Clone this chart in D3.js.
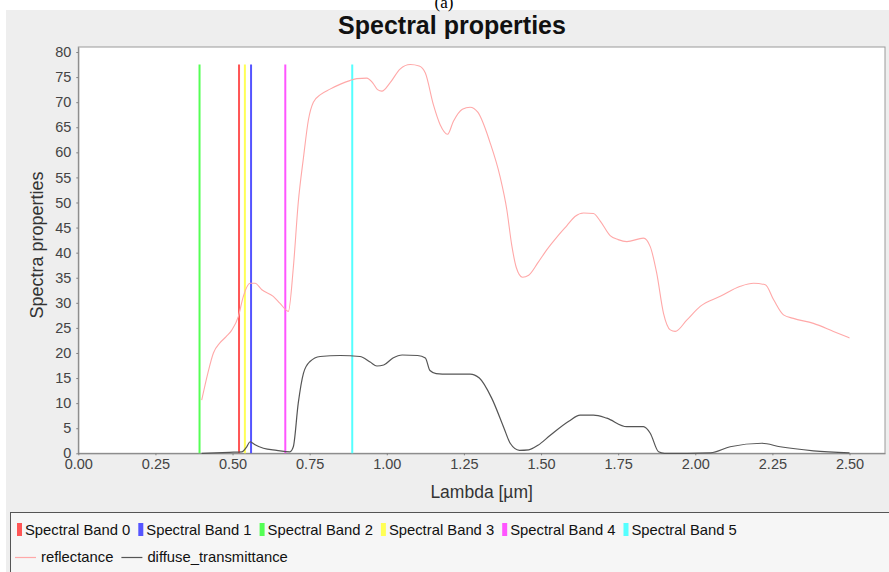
<!DOCTYPE html>
<html>
<head>
<meta charset="utf-8">
<script src="https://cdn.jsdelivr.net/npm/d3@7"></script>
<style>
  body { margin: 0; background: #fff; }
  svg { display: block; font-family: "Liberation Sans", Arial, sans-serif; }
</style>
</head>
<body>
<div id="chart"></div>
<script>
// band positions (lambda, µm)
var bandNames = ["Spectral Band 0", "Spectral Band 1", "Spectral Band 2",
  "Spectral Band 3", "Spectral Band 4", "Spectral Band 5"];
var bandLambda = [0.521, 0.560, 0.393, 0.540, 0.671, 0.888];
var bandTop = 77.5;

var xTicks = [0, 0.25, 0.5, 0.75, 1.0, 1.25, 1.5, 1.75, 2.0, 2.25, 2.5];
var yTicks = d3.range(0, 81, 5);

// [lambda, value]
var reflectance = [[0.40,10.6],[0.42,16],[0.438,20],[0.459,22],[0.48,23.3],[0.497,24.5],
  [0.519,27.3],[0.535,31.3],[0.557,33.9],[0.573,33.9],[0.595,32.6],[0.632,31.3],[0.654,29.9],
  [0.681,28.3],[0.697,37],[0.713,50],[0.730,59],[0.746,66.5],[0.762,70],[0.785,71.5],
  [0.816,72.6],[0.850,73.6],[0.880,74.3],[0.903,74.7],[0.935,74.8],[0.955,73.8],[0.970,72.5],
  [0.984,72.2],[1.011,73.9],[1.043,76.6],[1.076,77.5],[1.105,77.2],[1.125,75.8],[1.151,69.5],
  [1.173,65.5],[1.197,63.6],[1.216,66.2],[1.245,68.6],[1.27,69],[1.295,68],[1.335,61.9],
  [1.367,55.2],[1.389,48.6],[1.405,41.5],[1.42,37],[1.44,35.1],[1.46,35.5],[1.49,38],
  [1.519,40.6],[1.55,43],[1.584,45.4],[1.61,47.2],[1.638,47.9],[1.67,47.8],[1.692,46.3],
  [1.724,43.4],[1.75,42.6],[1.778,42.2],[1.832,42.9],[1.854,41.2],[1.875,35.9],[1.897,27.9],
  [1.919,24.6],[1.935,24.3],[1.973,26.6],[2.016,29.3],[2.081,31.3],[2.146,33.3],[2.189,33.9],
  [2.227,33.6],[2.254,30.6],[2.286,27.6],[2.318,26.9],[2.383,25.9],[2.448,24.3],[2.50,23.0]];

var transmittance = [[0.40,0],[0.49,0.2],[0.53,0.3],[0.546,1.3],[0.557,2.3],[0.573,1.7],
  [0.60,1.0],[0.643,0.6],[0.686,0.3],[0.697,1.3],[0.713,10],[0.73,16],[0.751,18.3],
  [0.784,19.3],[0.849,19.5],[0.913,19.3],[0.946,18.2],[0.968,17.4],[0.99,17.6],[1.02,19],
  [1.05,19.6],[1.1,19.5],[1.125,19],[1.14,16.5],[1.16,15.9],[1.2,15.8],[1.27,15.8],[1.30,15],
  [1.34,11],[1.38,5],[1.40,2],[1.43,0.6],[1.46,0.7],[1.49,1.6],[1.53,3.6],[1.59,6.4],
  [1.627,7.6],[1.67,7.6],[1.713,7.0],[1.778,5.3],[1.832,5.3],[1.854,4.0],[1.881,0.3],
  [1.9,0],[2.05,0.1],[2.113,1.3],[2.216,2.0],[2.275,1.3],[2.383,0.5],[2.5,0.1]];

var bandColors = ["#ff5555", "#5555ff", "#55ff55", "#ffff55", "#ff55ff", "#55ffff"];
var reflColor = "#ffa8a8", transColor = "#555555";

var W = 889, H = 572;
var svg = d3.select("#chart").append("svg").attr("width", W).attr("height", H);

// panel background
svg.append("rect").attr("x", 6).attr("y", 10).attr("width", W - 6).attr("height", H - 10)
  .attr("fill", "#eeeeee");
svg.append("text").attr("x", 444).attr("y", 8).attr("text-anchor", "middle")
  .style("font-family", "Liberation Serif, serif").style("font-size", "17px").text("(a)");

var x = d3.scaleLinear().domain([0, 2.615]).range([78.3, 885]);
var y = d3.scaleLinear().domain([0, 81]).range([453.3, 47]);

// plot area
svg.append("rect").attr("x", x(0)).attr("y", y(81))
  .attr("width", x(2.615) - x(0)).attr("height", y(0) - y(81))
  .attr("fill", "#fff").attr("stroke", "#9a9a9a");

// title
svg.append("text").attr("x", 452).attr("y", 34).attr("text-anchor", "middle")
  .style("font-size", "25px").style("font-weight", "bold").attr("fill", "#111")
  .text("Spectral properties");

// axes
var xAxis = svg.append("g").attr("transform", "translate(0," + y(0) + ")")
  .call(d3.axisBottom(x).tickValues(xTicks).tickFormat(d3.format(".2f"))
    .tickSizeInner(2).tickSizeOuter(0).tickPadding(3));
var yAxis = svg.append("g").attr("transform", "translate(" + x(0) + ",0)")
  .call(d3.axisLeft(y).tickValues(yTicks).tickSizeInner(2).tickSizeOuter(0).tickPadding(5));
[xAxis, yAxis].forEach(function (g) {
  g.select(".domain").attr("stroke", "#808080");
  g.selectAll(".tick line").attr("stroke", "#808080");
  g.selectAll(".tick text").attr("fill", "#444").style("font-size", "14.5px")
    .style("font-family", "Liberation Sans, Arial, sans-serif");
});

svg.append("text").attr("x", (x(0) + 885) / 2).attr("y", 498).attr("text-anchor", "middle")
  .style("font-size", "17.5px").attr("fill", "#333").text("Lambda [µm]");
svg.append("text").attr("transform", "translate(43,245) rotate(-90)").attr("text-anchor", "middle")
  .style("font-size", "18px").attr("fill", "#333").text("Spectra properties");

// band lines
svg.append("g").selectAll("line").data(bandLambda).enter().append("line")
  .attr("x1", function (d) { return x(d); }).attr("x2", function (d) { return x(d); })
  .attr("y1", y(0)).attr("y2", y(bandTop))
  .attr("stroke", function (d, i) { return bandColors[i]; }).attr("stroke-width", 2);

var line = d3.line()
  .x(function (d) { return x(d[0]); })
  .y(function (d) { return y(d[1]); })
  .curve(d3.curveMonotoneX);

svg.append("path").datum(reflectance).attr("d", line).attr("fill", "none")
  .attr("stroke", reflColor).attr("stroke-width", 1.1);
svg.append("path").datum(transmittance).attr("d", line).attr("fill", "none")
  .attr("stroke", transColor).attr("stroke-width", 1.2);

// legend
svg.append("rect").attr("x", 10.5).attr("y", 512.5).attr("width", 890).attr("height", 70)
  .attr("fill", "#f6f6f6").attr("stroke", "#555");
var lg = svg.append("g").style("font-size", "14.8px");
var lx = 17;
bandNames.forEach(function (name, i) {
  lg.append("rect").attr("x", lx).attr("y", 523).attr("width", 5).attr("height", 13)
    .attr("fill", bandColors[i]);
  var t = lg.append("text").attr("x", lx + 8).attr("y", 535).attr("fill", "#111").text(name);
  lx += 8 + t.node().getComputedTextLength() + 8;
});
var lineItems = [["reflectance", reflColor], ["diffuse_transmittance", transColor]];
lx = 15;
lineItems.forEach(function (it) {
  lg.append("line").attr("x1", lx).attr("x2", lx + 21).attr("y1", 557.5).attr("y2", 557.5)
    .attr("stroke", it[1]).attr("stroke-width", 1.2);
  var t = lg.append("text").attr("x", lx + 26).attr("y", 562).attr("fill", "#111").text(it[0]);
  lx += 26 + t.node().getComputedTextLength() + 8;
});
</script>
</body>
</html>
